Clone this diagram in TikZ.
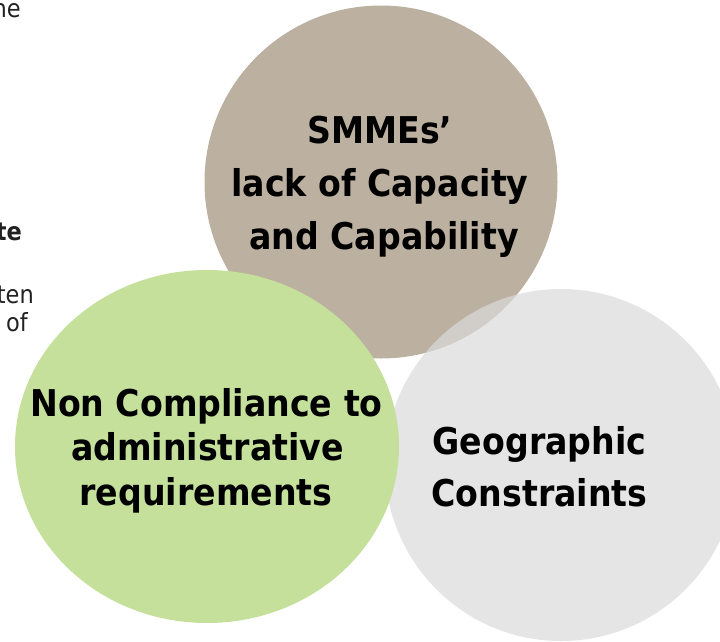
\documentclass[tikz,border=0pt]{standalone}
\usepackage{fontspec}
\setmainfont{DejaVu Sans Condensed}
\usetikzlibrary{shapes.geometric}
\definecolor{brownc}{RGB}{188,176,160}
\definecolor{greenc}{RGB}{197,224,155}
\definecolor{grayc}{RGB}{218,218,218}
\definecolor{fragc}{RGB}{34,34,34}
\tikzset{
  bubble/.style={circle, inner sep=0pt, draw=none},
  label line/.style={anchor=base, inner sep=0pt, font=\fontsize{36.9}{44}\selectfont\bfseries, text=black},
  frag/.style={anchor=base east, inner sep=0pt, font=\fontsize{25}{30}\selectfont, text=fragc},
}
\begin{document}
\begin{tikzpicture}[x=1pt,y=-1pt]
\clip (0,0) rectangle (720,642);
\fill[white] (0,0) rectangle (720,642);
% fragments of slide text at the left edge
\node[frag] (f1) at (21,18) {ne};
\node[frag, font=\fontsize{25}{30}\selectfont\bfseries] (f2) at (22,240) {te};
\node[frag] (f3) at (34,303) {ten};
\node[frag] (f4) at (28,331) {of};
% circles
\node[bubble, fill=brownc, minimum size=353pt] (cap) at (381,182) {};
\node[bubble, fill=grayc, fill opacity=0.7, minimum size=352pt] (geo) at (561,465) {};
\node[ellipse, inner sep=0pt, fill=greenc, minimum width=384pt, minimum height=353pt] (adm) at (207,446.5) {};
% labels
\node[label line] (cap1) at (380,143) {SMMEs’};
\node[label line] (cap2) at (380,196.5) {lack of Capacity};
\node[label line] (cap3) at (384,249) {and Capability};
\node[label line] (adm1) at (206.5,416.5) {Non Compliance to};
\node[label line] (adm2) at (207.5,460) {administrative};
\node[label line] (adm3) at (206,505) {requirements};
\node[label line] (geo1) at (539.5,454) {Geographic};
\node[label line] (geo2) at (539.5,506) {Constraints};
\end{tikzpicture}
\end{document}
